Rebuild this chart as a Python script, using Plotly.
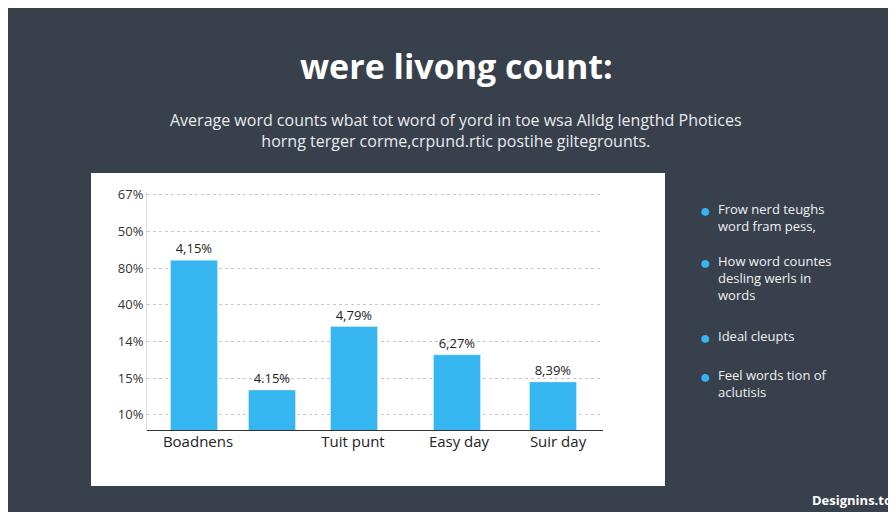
import plotly.graph_objects as go

# bar data (x positions follow the uneven spacing of the original)
bar_x = [0.47, 1.25, 2.07, 3.10, 4.06]
bar_values = [5.22, 1.68, 3.41, 2.64, 1.90]
bar_labels = ['4,15%', '4.15%', '4,79%', '6,27%', '8,39%']

cat_ticks = [0.51, 2.06, 3.12, 4.11]
cat_labels = ['Boadnens', 'Tuit punt', 'Easy day', 'Suir day']

y_ticks = [1, 2, 3, 4, 5, 6, 7]
y_labels = ['10%', '15%', '14%', '40%', '80%', '50%', '67%']

legend_items = [
    'Frow nerd teughs<br>word fram pess,',
    'How word countes<br>desling werls in<br>words',
    'Ideal cleupts',
    'Feel words tion of<br>aclutisis',
]
legend_top = [190, 242, 317, 356]

BG = '#38404b'
BLUE = '#35b6f0'
W, H = 896, 512
L, R, T, B = 139, 301, 184, 89
pw, ph = W - L - R, H - T - B


def px(x):
    return (x - L) / pw


def py(y):
    return (H - B - y) / ph


def note(text, x, y, size, color, xanchor='center', yanchor='middle', align='center'):
    fig.add_annotation(text=text, xref='paper', yref='paper', x=px(x), y=py(y),
                       xanchor=xanchor, yanchor=yanchor, align=align, showarrow=False,
                       font=dict(size=size, color=color))


fig = go.Figure()
fig.add_trace(go.Bar(
    x=bar_x, y=bar_values, width=0.47, marker_color=BLUE,
    text=bar_labels, textposition='outside', cliponaxis=False,
    textfont=dict(size=13, color='#222'),
))

fig.add_shape(type='rect', xref='paper', yref='paper', layer='below',
              x0=px(83), x1=px(657), y0=py(478), y1=py(165),
              fillcolor='white', line=dict(width=0))

note('<b>were livong count:</b>', 448, 58, 34, 'white')
note('Average word counts wbat tot word of yord in toe wsa Alldg lengthd Photices<br>'
     'horng terger corme,crpund.rtic postihe giltegrounts.', 448, 122, 16, '#e8ebef')
note('<b>Designins.to</b>', 886, 492, 13, 'white', xanchor='right')

for txt, yy in zip(legend_items, legend_top):
    note('●', 697, yy - 2, 18, BLUE, yanchor='top')
    note(txt, 708, yy, 13, '#eef1f4', xanchor='left', yanchor='top', align='left')

fig.update_layout(
    width=W, height=H, margin=dict(l=L, r=R, t=T, b=B),
    paper_bgcolor=BG, plot_bgcolor='rgba(0,0,0,0)', showlegend=False,
    font=dict(family='Open Sans, sans-serif'),
    xaxis=dict(range=[0, 4.56], tickvals=cat_ticks, ticktext=cat_labels,
               showgrid=False, zeroline=False, ticks='', ticklen=0,
               tickfont=dict(size=15, color='#222'), showline=False),
    yaxis=dict(range=[0.56, 7.08], tickvals=y_ticks, ticktext=y_labels,
               showgrid=True, gridcolor='#c8c8c8', griddash='dot',
               zeroline=False, showline=True, linecolor='#dddddd',
               tickfont=dict(size=13, color='#333'), ticks=''),
)
fig.add_shape(type='line', xref='paper', yref='y', x0=0, x1=1, y0=0.56, y1=0.56,
              line=dict(color='#333', width=2))

fig.write_html('out.html')
